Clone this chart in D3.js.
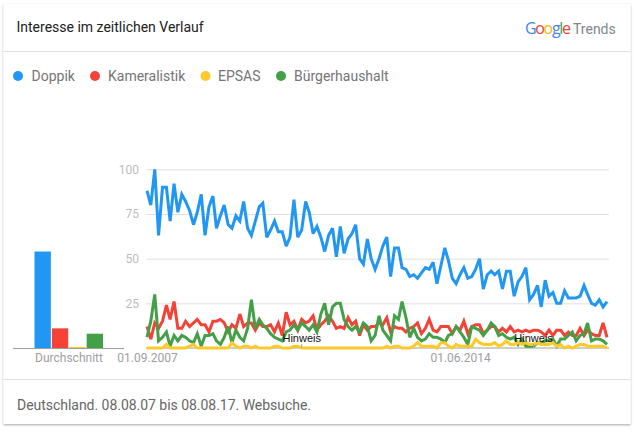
<!DOCTYPE html>
<html><head><meta charset="utf-8">
<script src="https://cdn.jsdelivr.net/npm/d3@7"></script>
<style>html,body{margin:0;padding:0;background:#fff}svg{display:block}text{font-family:Roboto,sans-serif}</style>
</head><body><svg id="c" width="634" height="432"></svg>
<script>
const seriesNames = ["Doppik","Kameralistik","EPSAS","Bürgerhaushalt"];
const seriesColors = ["#2196f3","#f44336","#ffca28","#43a047"];
const doppik = [88,80,100,63,90,90,71,92,76,86,
 82,77,69,76,86,63,79,85,67,74,
 80,69,67,74,71,82,67,63,71,79,
 81,62,66,71,65,65,57,62,83,62,
 66,82,76,64,68,62,54,63,67,51,
 68,53,61,64,69,50,47,61,50,44,
 50,57,62,40,56,56,45,44,40,41,
 39,42,45,44,48,36,46,56,49,39,
 36,41,45,39,40,44,50,33,41,43,
 41,43,33,43,43,29,37,40,45,27,
 30,35,23,38,29,31,25,25,32,28,
 28,28,29,35,30,25,24,27,23,26];
const kameralistik = [12,5,14,11,15,24,16,26,11,11,
 15,12,14,16,13,13,9,15,15,16,
 14,9,13,11,19,12,14,14,10,14,
 12,12,13,9,14,7,20,13,15,10,
 16,14,15,18,10,13,15,18,15,11,
 12,11,17,13,15,7,13,10,12,12,
 14,13,17,9,12,11,11,9,11,12,
 14,8,11,16,10,9,12,12,12,8,
 12,10,15,8,12,13,13,8,10,12,
 12,9,11,9,12,9,10,9,10,9,
 10,10,9,7,10,7,10,10,7,9,
 7,7,11,7,10,8,7,7,14,6];
const epsas = [0,0,0,0,0,2,0,0,0,0,
 0,1,2,0,0,0,0,0,0,0,
 0,0,3,1,0,1,1,0,1,0,
 0,0,0,1,1,0,0,0,1,1,
 0,0,0,0,0,0,0,0,0,0,
 0,0,0,0,0,0,0,0,0,0,
 0,0,1,0,1,1,0,0,0,1,
 3,1,1,1,1,0,3,3,1,0,
 2,1,1,1,1,5,3,2,2,2,
 3,1,2,4,2,2,3,2,3,2,
 2,3,2,2,2,3,1,2,0,1,
 0,1,2,2,1,1,1,1,1,0];
const buergerhaushalt = [6,15,30,4,6,9,1,7,4,7,
 6,4,3,8,1,7,7,8,4,2,
 6,12,3,10,6,4,11,27,11,16,
 13,11,8,6,5,4,9,10,13,10,
 14,12,10,13,9,19,25,13,23,25,
 25,16,12,10,12,9,14,12,4,7,
 18,10,7,4,18,16,26,17,6,11,
 6,4,5,8,6,6,5,3,7,8,
 12,9,6,2,12,11,10,7,10,14,
 12,7,8,6,5,6,2,5,1,1,
 1,3,3,4,4,5,1,5,5,7,
 9,4,7,8,14,4,5,5,4,2];
const averages = [54,11,0.6,8];
const yTicks = [25,50,75,100];
const xTickDates = ["2007-09-01","2014-06-01"];
const noteDates = ["2011-01-01","2016-01-01"];
const noteLabel = "Hinweis";
const titleText = "Interesse im zeitlichen Verlauf";
const footerText = "Deutschland. 08.08.07 bis 08.08.17. Websuche.";
const avgLabel = "Durchschnitt";
const logoLetters = ["G","o","o","g","l","e"];
const logoColors = ["#4285f4","#ea4335","#fbbc05","#4285f4","#34a853","#ea4335"];

const svg = d3.select("#c");
const defs = svg.append("defs");
const f = defs.append("filter").attr("id","sh").attr("x","-5%").attr("y","-5%").attr("width","110%").attr("height","110%");
f.append("feDropShadow").attr("dx",0).attr("dy",1).attr("stdDeviation",1.2).attr("flood-color","#000").attr("flood-opacity",0.35);
svg.append("rect").attr("x",3.5).attr("y",4).attr("width",627).attr("height",420).attr("fill","#fff").attr("filter","url(#sh)");
[51.5,379.5].forEach(y=>svg.append("line").attr("x1",3.5).attr("x2",630.5).attr("y1",y).attr("y2",y).attr("stroke","#e0e0e0"));

svg.append("text").attr("x",16.5).attr("y",32).attr("font-size",14).attr("fill","#212121").text(titleText);
svg.append("text").attr("x",17).attr("y",410).attr("font-size",14).attr("fill","#666").attr("textLength",294).text(footerText);

// logo
const logo = svg.append("text").attr("x",525).attr("y",33.5).attr("font-size",16).attr("textLength",46).style("font-family","'Open Sans',sans-serif");
logo.selectAll("tspan").data(logoLetters).join("tspan").attr("fill",(d,i)=>logoColors[i]).text(d=>d);
svg.append("text").attr("x",573).attr("y",33.5).attr("font-size",14).attr("fill","#80868b").text("Trends");

// legend
const legendX = [18,95,205.5,281];
const legendTextDx = [13.5,13,12.5,13];
const lg = svg.append("g").selectAll("g").data(seriesNames).join("g").attr("transform",(d,i)=>`translate(${legendX[i]},76)`);
lg.append("circle").attr("r",5).attr("fill",(d,i)=>seriesColors[i]);
lg.append("text").attr("x",(d,i)=>legendTextDx[i]).attr("y",5).attr("font-size",14).attr("fill","#757575").text(d=>d);

// scales
const dates = d3.utcMonth.range(new Date(Date.UTC(2007,8,1)),new Date(Date.UTC(2017,8,1)));
const x = d3.scaleUtc().domain([dates[0],dates[dates.length-1]]).range([147,607]);
const y = d3.scaleLinear().domain([0,100]).range([348,169.3]);
const parse = d3.utcParse("%Y-%m-%d");

// grid & y labels
const gridG = svg.append("g");
const yAxis = d3.axisLeft(y).tickValues(yTicks).tickSize(-(609-146)).tickPadding(7);
gridG.append("g").attr("transform","translate(146,0)").call(yAxis).call(g=>{
  g.select(".domain").remove();
  g.selectAll("line").attr("stroke","#e0e0e0");
  g.selectAll("text").attr("font-size",12).attr("fill","#bdbdbd").style("font-family","Roboto,sans-serif");
});
svg.append("line").attr("x1",146).attr("x2",609).attr("y1",y(0)).attr("y2",y(0)).attr("stroke","#9e9e9e");

// x labels
const xAxis = d3.axisBottom(x).tickValues(xTickDates.map(parse)).tickSize(0).tickPadding(5).tickFormat(d3.utcFormat("%d.%m.%Y"));
svg.append("g").attr("transform",`translate(0,${y(0)})`).call(xAxis).call(g=>{
  g.select(".domain").remove();
  g.selectAll("text").attr("font-size",12).attr("fill","#9e9e9e").style("font-family","Roboto,sans-serif");
});

// avg bars
const bx = d3.scaleBand().domain(seriesNames).range([34.5,103]).paddingInner(0.06);
svg.append("g").selectAll("rect").data(averages).join("rect")
  .attr("x",(d,i)=>bx(seriesNames[i])).attr("width",bx.bandwidth())
  .attr("y",d=>y(d)).attr("height",d=>y(0)-y(d)).attr("fill",(d,i)=>seriesColors[i]);
svg.append("line").attr("x1",13).attr("x2",124).attr("y1",348.5).attr("y2",348.5).attr("stroke","#9e9e9e");
svg.append("text").attr("x",69).attr("y",362).attr("text-anchor","middle").attr("font-size",12).attr("fill","#9e9e9e").text(avgLabel);

// lines
const line = d3.line().x((d,i)=>x(dates[i])).y(d=>y(d));
[doppik,kameralistik,buergerhaushalt,epsas].forEach((s,k)=>{
  const c = [seriesColors[0],seriesColors[1],seriesColors[3],seriesColors[2]][k];
  svg.append("path").datum(s).attr("d",line).attr("fill","none").attr("stroke",c).attr("stroke-width",3).attr("stroke-linejoin","miter").attr("stroke-miterlimit",3);
});

// notes
const ng = svg.append("g").selectAll("g").data(noteDates.map(parse)).join("g").attr("transform",d=>`translate(${x(d)},0)`);
ng.append("line").attr("y1",344).attr("y2",348).attr("stroke","#9e9e9e");
ng.append("text").attr("y",342).attr("text-anchor","middle").attr("font-size",11).attr("fill","#111")
  .style("font-family","'Liberation Sans',sans-serif").text(noteLabel);
</script></body></html>
